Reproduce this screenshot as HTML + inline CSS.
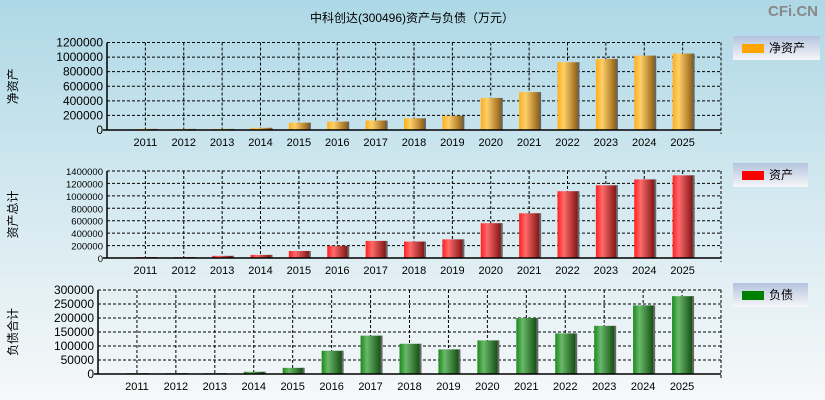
<!DOCTYPE html>
<html><head><meta charset="utf-8">
<style>
html,body{margin:0;padding:0}
body{width:825px;height:400px;overflow:hidden;background:linear-gradient(#aed8e6,#d4e9f0 50%,#f6f8f9);font-family:"Liberation Sans","Noto Sans CJK SC",sans-serif}
svg{position:absolute;left:0;top:0}
</style></head><body>
<svg id="c" width="825" height="400">
<defs>
<linearGradient id="gO" x1="0" x2="1"><stop offset="0" stop-color="#ffae1a"/><stop offset="0.3" stop-color="#ffcf6a"/><stop offset="1" stop-color="#8a5a10"/></linearGradient>
<linearGradient id="gR" x1="0" x2="1"><stop offset="0" stop-color="#ff2020"/><stop offset="0.3" stop-color="#ff6a6a"/><stop offset="1" stop-color="#7a1010"/></linearGradient>
<linearGradient id="gG" x1="0" x2="1"><stop offset="0" stop-color="#1a8a1a"/><stop offset="0.3" stop-color="#6ab86a"/><stop offset="1" stop-color="#0e4a0e"/></linearGradient>
<linearGradient id="gL" x1="0" y1="0" x2="0" y2="1"><stop offset="0" stop-color="#b4c4de"/><stop offset="1" stop-color="#f6f6f8"/></linearGradient>
</defs>
<text x="412" y="22" font-size="12" text-anchor="middle" fill="#000">中科创达(300496)资产与负债（万元）</text>
<text x="818" y="16" font-size="15" font-weight="bold" text-anchor="end" fill="#888">CFi.CN</text>
</svg>
<script>
const years=["2011","2012","2013","2014","2015","2016","2017","2018","2019","2020","2021","2022","2023","2024","2025"];
const netAssets=[15000,15000,15000,30000,100000,115000,130000,160000,195000,440000,520000,930000,975000,1020000,1048000];
const totalAssets=[15000,15000,35000,50000,113000,195000,275000,265000,300000,560000,720000,1075000,1170000,1265000,1330000];
const liabilities=[3000,3000,3000,8000,22000,83000,137000,108000,88000,120000,200000,145000,172000,245000,278000];
const netTicks=[0,200000,400000,600000,800000,1000000,1200000];
const assetTicks=[0,200000,400000,600000,800000,1000000,1200000,1400000];
const liabTicks=[0,50000,100000,150000,200000,250000,300000];
const svg=document.getElementById('c');
const NS='http://www.w3.org/2000/svg';
function mk(t,a,p){const e=document.createElementNS(NS,t);for(const k in a)e.setAttribute(k,a[k]);(p||svg).appendChild(e);return e;}
function panel(o){
  const g=mk('g',{});
  
  
  const max=o.ticks[o.ticks.length-1];
  const y=v=>o.b-(v/max)*(o.b-o.t);
  const step=(o.r-o.l)/16;
  const x=i=>o.l+step*(i+1);
  o.ticks.forEach(v=>{
    if(v>0){const l=mk('line',{x1:o.l,x2:o.r,y1:y(v),y2:y(v),stroke:'#000','stroke-dasharray':'3,2'},g);}
    const t=mk('text',{x:o.l-4,y:y(v)+4,'font-size':o.fs,'text-anchor':'end',fill:'#000'},g);t.textContent=v;
    
    
  });
  years.forEach((yr,i)=>{
    const l=mk('line',{x1:x(i),x2:x(i),y1:o.t,y2:o.b,stroke:'#000','stroke-dasharray':'3,2'},g);
    
    const t=mk('text',{x:x(i),y:o.b+16,'font-size':11,'text-anchor':'middle',fill:'#000'},g);t.textContent=yr;
    
    
  });
  mk('line',{x1:o.r,x2:o.r,y1:o.t,y2:o.b+4,stroke:'#000','stroke-dasharray':'3,2'},g);
  mk('line',{x1:o.l,x2:o.r,y1:o.t,y2:o.t,stroke:'#000','stroke-dasharray':'3,2'},g);
  o.vals.forEach((v,i)=>{
    const yy=y(v);
    const r=mk('rect',{x:x(i)-10,y:yy,width:21,height:Math.max(1,o.b-yy),fill:o.fill},g);
    
    
    mk('rect',{x:x(i)+10,y:yy,width:2,height:Math.max(1,o.b-yy),fill:'#666'},g);
  });
  mk('line',{x1:o.l,x2:o.l,y1:o.t,y2:o.b,stroke:'#000','stroke-width':1.5},g);
  mk('line',{x1:o.l-4,x2:o.r,y1:o.b,y2:o.b,stroke:'#000','stroke-width':1.5},g);
  const yt=mk('text',{x:0,y:0,'font-size':12,'text-anchor':'middle',fill:'#000',transform:`translate(17,${(o.t+o.b)/2}) rotate(-90)`},g);
  yt.textContent=o.label;
  
  
  const lg=mk('g',{},g);
  
  
  mk('rect',{x:733,y:o.ly,width:o.lw,height:24,fill:'url(#gL)'},lg);
  mk('rect',{x:742,y:o.ly+8,width:22,height:9,fill:o.sw},lg);
  const lt=mk('text',{x:769,y:o.ly+16,'font-size':12,fill:'#000'},lg);lt.textContent=o.lt;
}
panel({name:'net-assets-chart',l:107,r:721,t:42.5,b:130,ticks:netTicks,vals:netAssets,fill:'url(#gO)',fs:12,label:'净资产',ly:36,lw:87,sw:'#ffa500',lt:'净资产'});
panel({name:'total-assets-chart',l:107,r:721,t:171,b:258,ticks:assetTicks,vals:totalAssets,fill:'url(#gR)',fs:9.5,label:'资产总计',ly:163,lw:75,sw:'#ff0000',lt:'资产'});
panel({name:'liabilities-chart',l:98,r:721,t:290,b:374,ticks:liabTicks,vals:liabilities,fill:'url(#gG)',fs:12,label:'负债合计',ly:283,lw:75,sw:'#008000',lt:'负债'});
</script>
</body></html>
